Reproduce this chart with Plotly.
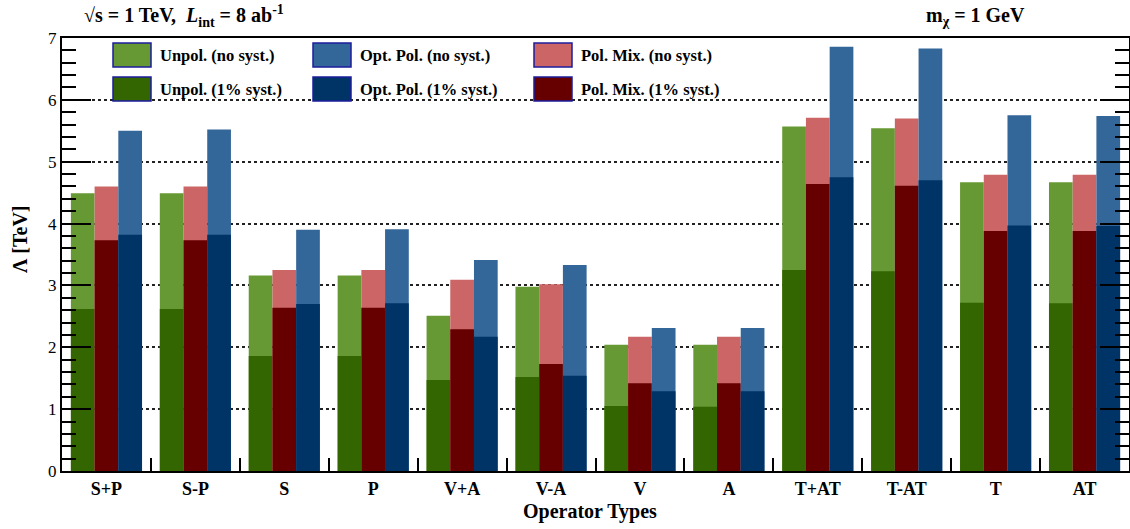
import plotly.graph_objects as go

categories = ["S+P", "S-P", "S", "P", "V+A", "V-A", "V", "A", "T+AT", "T-AT", "T", "AT"]

unpol_nosyst = [4.49, 4.49, 3.16, 3.16, 2.51, 2.98, 2.04, 2.04, 5.57, 5.54, 4.67, 4.67]
unpol_syst = [2.62, 2.62, 1.86, 1.86, 1.47, 1.52, 1.05, 1.04, 3.25, 3.23, 2.72, 2.71]
polmix_nosyst = [4.60, 4.60, 3.25, 3.25, 3.09, 3.02, 2.17, 2.17, 5.71, 5.70, 4.79, 4.79]
polmix_syst = [3.73, 3.73, 2.64, 2.64, 2.29, 1.73, 1.42, 1.42, 4.64, 4.61, 3.88, 3.88]
optpol_nosyst = [5.50, 5.52, 3.90, 3.91, 3.41, 3.33, 2.31, 2.31, 6.86, 6.83, 5.75, 5.74]
optpol_syst = [3.82, 3.82, 2.70, 2.71, 2.17, 1.54, 1.29, 1.29, 4.75, 4.70, 3.97, 3.96]

FONT = "Liberation Serif"
C_LG, C_DG = "#669933", "#336600"
C_LR, C_DR = "#cc6666", "#660000"
C_LB, C_DB = "#336699", "#003366"

W = 0.8 / 3
fig = go.Figure()
series = [
    ("Unpol. (no syst.)", unpol_nosyst, C_LG, -0.4),
    ("Unpol. (1% syst.)", unpol_syst, C_DG, -0.4),
    ("Pol. Mix. (no syst.)", polmix_nosyst, C_LR, -0.4 + W),
    ("Pol. Mix. (1% syst.)", polmix_syst, C_DR, -0.4 + W),
    ("Opt. Pol. (no syst.)", optpol_nosyst, C_LB, -0.4 + 2 * W),
    ("Opt. Pol. (1% syst.)", optpol_syst, C_DB, -0.4 + 2 * W),
]
for name, vals, col, off in series:
    fig.add_trace(go.Bar(x=categories, y=vals, name=name, width=W, offset=off,
                         marker=dict(color=col, line=dict(width=0)), showlegend=False))

# plot area in pixels
L, R, T, B = 62, 1129, 38, 471
PW, PH = R - L, B - T


def px(x):
    return (x - L) / PW


def py(y):
    return (B - y) / PH


shapes = []
annotations = []
legend_items = [
    ("Unpol. (no syst.)", C_LG, 113, 43), ("Opt. Pol. (no syst.)", C_LB, 313, 43), ("Pol. Mix. (no syst.)", C_LR, 534, 43),
    ("Unpol. (1% syst.)", C_DG, 113, 77), ("Opt. Pol. (1% syst.)", C_DB, 313, 77), ("Pol. Mix. (1% syst.)", C_DR, 534, 77),
]
for text, col, x0, y0 in legend_items:
    shapes.append(dict(type="rect", xref="paper", yref="paper", x0=px(x0), x1=px(x0 + 38),
                       y0=py(y0 + 24), y1=py(y0), fillcolor=col, line=dict(color="#1c1c9c", width=1.5), layer="above"))
    annotations.append(dict(xref="paper", yref="paper", x=px(x0 + 45), y=py(y0 + 12), text="<b>%s</b>" % text,
                            showarrow=False, xanchor="left", yanchor="middle", font=dict(family=FONT, size=16.5, color="black")))

annotations += [
    dict(xref="paper", yref="paper", x=px(82), y=py(16), xanchor="left", yanchor="middle", showarrow=False,
         text="<b>√s = 1 TeV,  <i>L</i><sub>int</sub> = 8 ab<sup>-1</sup></b>", font=dict(family=FONT, size=20, color="black")),
    dict(xref="paper", yref="paper", x=px(975), y=py(16), xanchor="center", yanchor="middle", showarrow=False,
         text="<b>m<sub>χ</sub> = 1 GeV</b>", font=dict(family=FONT, size=20, color="black")),
    dict(xref="paper", yref="paper", x=px(20), y=py(240), xanchor="center", yanchor="middle", showarrow=False,
         textangle=-90, text="<b>Λ [TeV]</b>", font=dict(family=FONT, size=20, color="black")),
    dict(xref="paper", yref="paper", x=px(590), y=py(511), xanchor="center", yanchor="middle", showarrow=False,
         text="<b>Operator Types</b>", font=dict(family=FONT, size=20, color="black")),
]

fig.update_layout(
    width=1130, height=529,
    margin=dict(l=L, r=1130 - R, t=T, b=529 - B, autoexpand=False),
    paper_bgcolor="white", plot_bgcolor="white",
    barmode="overlay",
    shapes=shapes, annotations=annotations,
    showlegend=False,
    font=dict(family=FONT, color="black"),
)
fig.update_xaxes(
    type="category", range=[-0.5, 11.5], tickson="boundaries", ticks="inside", ticklen=13, tickwidth=1.5,
    tickcolor="black", showline=True, linecolor="black", linewidth=2, mirror=True, showgrid=False,
    tickfont=dict(family=FONT, size=18, color="black"),
    tickvals=categories, ticktext=["<b>%s</b>" % c for c in categories],
)
fig.update_yaxes(
    range=[0, 7], dtick=1, ticks="inside", ticklen=29, tickwidth=2, tickcolor="black",
    showline=True, linecolor="black", linewidth=2, mirror="ticks",
    showgrid=True, gridcolor="#222222", griddash="dot", gridwidth=1.5, zeroline=False,
    tickfont=dict(family=FONT, size=17, color="black"),
    minor=dict(dtick=0.2, ticks="inside", ticklen=14, tickwidth=1.5, tickcolor="black", showgrid=False),
)
fig.write_html("out.html", config={"displayModeBar": False},
               post_script="document.body.style.margin='0';document.body.style.overflow='hidden';")
